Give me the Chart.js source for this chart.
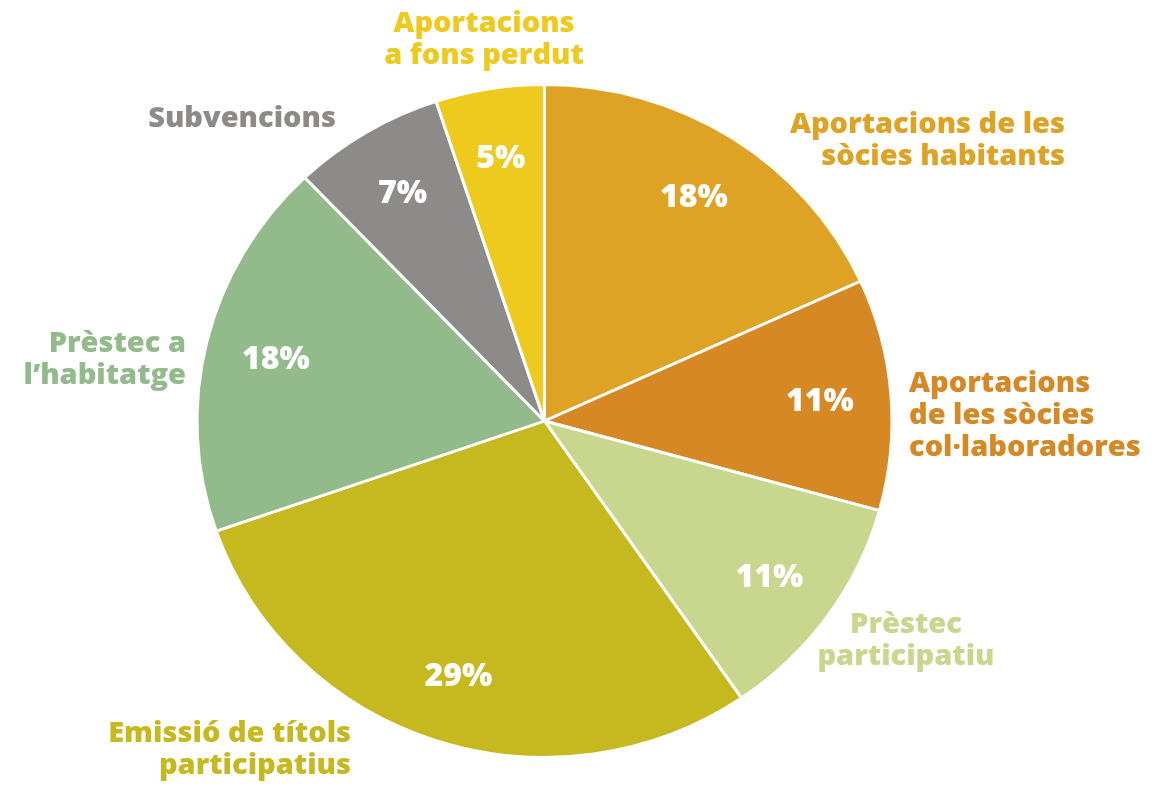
<!DOCTYPE html>
<html>
<head>
<meta charset="utf-8">
<title>Fonts de finançament</title>
<script src="https://cdn.jsdelivr.net/npm/chart.js@4/dist/chart.umd.min.js"></script>
<style>
  html, body { margin: 0; padding: 0; background: #fff; }
  #wrap { width: 1153px; height: 785px; }
</style>
</head>
<body>
<div id="wrap"><canvas id="pie" width="1153" height="785"></canvas></div>
<script>
// slices, clockwise from 12 o'clock
const categories = [
    ['Aportacions de les', 'sòcies habitants'],
    ['Aportacions', 'de les sòcies', 'col·laboradores'],
    ['Prèstec', 'participatiu'],
    ['Emissió de títols', 'participatius'],
    ['Prèstec a', 'l’habitatge'],
    ['Subvencions'],
    ['Aportacions', 'a fons perdut']
];
const shares = [18, 11, 11, 29, 18, 7, 5];
const sliceColors = ['#dea325', '#d68824', '#c8d78d', '#c6b91f', '#93ba8b', '#8d8b89', '#eec91e'];

// where each category name sits (first baseline) and how it is aligned
const nameSpots = [
    { x: 1065, y: 133, align: 'right' },
    { x: 909, y: 392, align: 'left' },
    { x: 906, y: 633, align: 'center' },
    { x: 351, y: 742, align: 'right' },
    { x: 186, y: 352, align: 'right' },
    { x: 336, y: 127, align: 'right' },
    { x: 484, y: 32, align: 'center' }
];

const FONT = '"Open Sans", "DejaVu Sans", sans-serif';
const SQUASH = 0.968; // pie is drawn slightly flattened

const pieLabels = {
    id: 'pieLabels',
    beforeDatasetsDraw(chart) {
        const arc = chart.getDatasetMeta(0).data[0];
        const ctx = chart.ctx;
        ctx.save();
        ctx.translate(arc.x, arc.y);
        ctx.scale(1, SQUASH);
        ctx.translate(-arc.x, -arc.y);
    },
    afterDatasetsDraw(chart) {
        const ctx = chart.ctx;
        ctx.restore();
        const arcs = chart.getDatasetMeta(0).data;
        ctx.save();
        arcs.forEach((arc, i) => {
            const p = arc.getProps(['x', 'y', 'startAngle', 'endAngle', 'outerRadius'], true);
            const mid = (p.startAngle + p.endAngle) / 2;
            const r = p.outerRadius * 0.795;
            ctx.fillStyle = '#ffffff';
            ctx.font = '800 32px ' + FONT;
            ctx.textAlign = 'center';
            ctx.textBaseline = 'alphabetic';
            ctx.fillText(shares[i] + '%', p.x + Math.cos(mid) * r, p.y + Math.sin(mid) * r * SQUASH + 11);

            const spot = nameSpots[i];
            ctx.fillStyle = sliceColors[i];
            ctx.font = '800 29px ' + FONT;
            ctx.textAlign = spot.align;
            categories[i].forEach((line, k) => {
                ctx.fillText(line, spot.x, spot.y + k * 32);
            });
        });
        ctx.restore();
    }
};

new Chart(document.getElementById('pie'), {
    type: 'pie',
    data: {
        labels: categories.map((c) => c.join(' ')),
        datasets: [{
            data: shares,
            backgroundColor: sliceColors,
            borderColor: '#ffffff',
            borderWidth: 3
        }]
    },
    options: {
        responsive: false,
        animation: false,
        layout: { padding: { top: 72, bottom: 15, left: 150, right: 214 } },
        plugins: {
            legend: { display: false },
            tooltip: { enabled: false }
        }
    },
    plugins: [pieLabels]
});
</script>
</body>
</html>
